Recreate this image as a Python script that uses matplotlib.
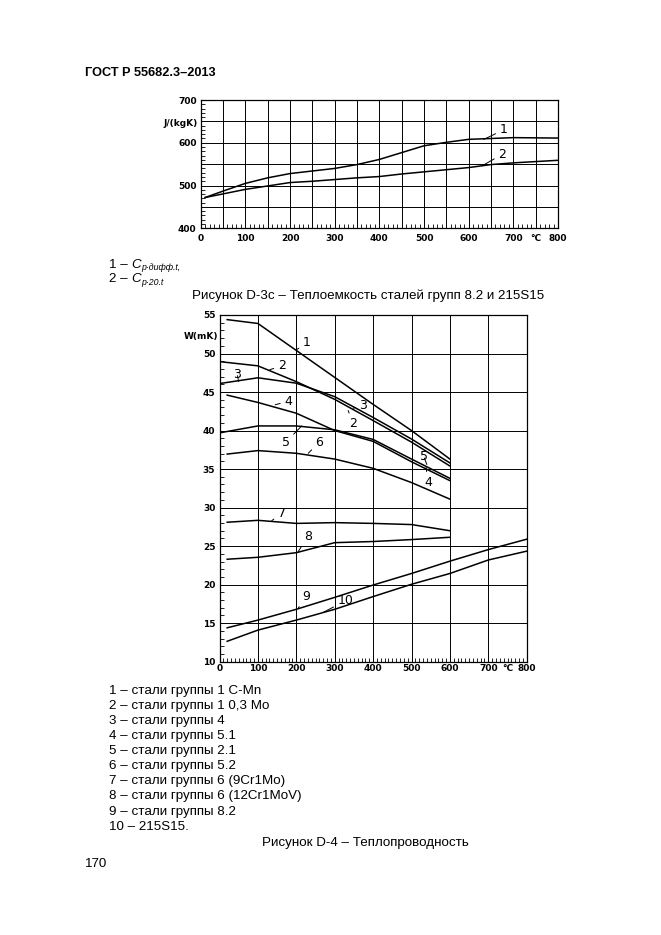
import matplotlib
matplotlib.use("Agg")
import matplotlib.pyplot as plt
from matplotlib.ticker import MultipleLocator, FuncFormatter
from matplotlib.transforms import offset_copy

# Рисунок D-3c: heat capacity, J/(kgK)
cp_t1 = [10, 50, 100, 150, 200, 250, 300, 350, 400, 450, 500, 550, 600, 650, 700, 800]
cp_1 = [472, 487, 505, 518, 528, 534, 540, 549, 561, 577, 593, 601, 608, 610, 612, 611]
cp_t2 = [10, 100, 150, 200, 250, 300, 350, 400, 450, 500, 550, 600, 650, 700, 750, 800]
cp_2 = [472, 491, 499, 507, 510, 514, 518, 521, 527, 532, 537, 542, 549, 553, 556, 559]
cp_legend = [("1 – ", "p·дифф.t,"), ("2 – ", "p·20.t")]

# Рисунок D-4: thermal conductivity, W/(mK)
t_a = [20, 100, 200, 300, 400, 500, 600]
t_b = [0, 100, 200, 300, 400, 500, 600]
t_c = [20, 100, 200, 300, 400, 500, 600, 700, 800]
k1 = [54.4, 53.9, 50.4, 46.9, 43.4, 40.0, 36.3]
k2 = [48.95, 48.4, 46.35, 44.05, 41.3, 38.5, 35.4]
k3 = [46.1, 46.85, 46.15, 44.4, 41.7, 38.9, 35.8]
k4 = [44.6, 43.65, 42.25, 40.0, 38.6, 35.95, 33.5]
k5 = [39.7, 40.6, 40.6, 40.1, 38.85, 36.3, 33.8]
k6 = [36.95, 37.4, 37.05, 36.3, 35.1, 33.25, 31.1]
k7 = [28.1, 28.35, 27.95, 28.05, 27.95, 27.8, 27.0]
k8 = [23.3, 23.55, 24.15, 25.45, 25.6, 25.85, 26.15]
k9 = [14.4, 15.4, 16.8, 18.35, 19.95, 21.45, 23.05, 24.55, 25.9]
k10 = [12.65, 14.1, 15.4, 16.8, 18.45, 20.05, 21.45, 23.2, 24.35]

k_legend = [
    "1 – стали группы 1 C-Mn",
    "2 – стали группы 1 0,3 Mo",
    "3 – стали группы 4",
    "4 – стали группы 5.1",
    "5 – стали группы 2.1",
    "6 – стали группы 5.2",
    "7 – стали группы 6 (9Cr1Mo)",
    "8 – стали группы 6 (12Cr1MoV)",
    "9 – стали группы 8.2",
    "10 – 215S15.",
]

W, H = 661, 935
plt.rcParams['font.family'] = ['Liberation Sans', 'DejaVu Sans']

TICKFONT = ['Liberation Sans Narrow', 'DejaVu Sans']
TICKSIZE = 6.5

fig = plt.figure(figsize=(W / 100, H / 100), dpi=100)
fig.patch.set_facecolor("white")
renderer = fig.canvas.get_renderer()


def box(x0, y0, x1, y1):
    # pixel box (top-left origin) -> figure axes
    return fig.add_axes([x0 / W, 1 - y1 / H, (x1 - x0) / W, (y1 - y0) / H])


def ftext(px, py, s, va="center", **kw):
    return fig.text(px / W, 1 - py / H, s, va=va, **kw)


def style(ax, minor_x, minor_y):
    for sp in ax.spines.values():
        sp.set_linewidth(0.9)
    ax.grid(True, which="major", color="black", lw=0.7)
    ax.xaxis.set_minor_locator(MultipleLocator(minor_x))
    ax.yaxis.set_minor_locator(MultipleLocator(minor_y))
    ax.tick_params(which="major", length=0, pad=3)
    ax.tick_params(which="minor", direction="in", length=3, width=0.6,
                   top=False, right=False)
    for lab in ax.get_xticklabels() + ax.get_yticklabels():
        lab.set_family(TICKFONT)
        lab.set_fontsize(TICKSIZE)
        lab.set_fontweight("bold")


def label(ax, s, xy, xytext):
    ax.annotate(s, xy=xy, xytext=xytext, ha="center", va="center",
                fontsize=9, family=TICKFONT,
                arrowprops=dict(arrowstyle="-", lw=0.7, color="black",
                                shrinkA=1, shrinkB=0))


def formula(px, py, prefix, sub):
    # "N – C_sub" with italic C and smaller italic subscript
    t = ftext(px, py, prefix, va="baseline", fontsize=9.6)
    x1 = t.get_window_extent(renderer).x1
    c = fig.text(x1 / W, 1 - py / H, "C", va="baseline", fontsize=9.6,
                 style="italic")
    x2 = c.get_window_extent(renderer).x1
    fig.text(x2 / W, 1 - (py + 2.5) / H, sub, va="baseline", fontsize=6.3,
             style="italic")


# ---------- top chart ----------
ax1 = box(200.7, 100, 558, 228.3)
ax1.plot(cp_t1, cp_1, color="black", lw=1.1)
ax1.plot(cp_t2, cp_2, color="black", lw=1.1)
ax1.set_xlim(0, 800)
ax1.set_ylim(400, 700)
ax1.xaxis.set_major_locator(MultipleLocator(50))
ax1.yaxis.set_major_locator(MultipleLocator(50))
ax1.xaxis.set_major_formatter(FuncFormatter(
    lambda v, _: "°C" if round(v) == 750 else (f"{v:.0f}" if round(v) % 100 == 0 else "")))
ax1.yaxis.set_major_formatter(FuncFormatter(
    lambda v, _: f"{v:.0f}" if round(v) % 100 == 0 else ""))
style(ax1, 10, 10)
ax1.tick_params(axis="x", pad=4)
ax1.text(-6, 646, "J/(kgK)", ha="right", va="center", fontsize=TICKSIZE,
         family=TICKFONT, fontweight="bold")
label(ax1, "1", (634, 608), (678, 630))
label(ax1, "2", (630, 546), (675, 573))

ftext(85, 72.8, "ГОСТ Р 55682.3–2013", fontsize=9.2, fontweight="bold")
formula(109, 268, *cp_legend[0])
formula(109, 282.5, *cp_legend[1])
ftext(191.7, 296, "Рисунок D-3с – Теплоемкость сталей групп 8.2 и 215S15", fontsize=9.6)

# ---------- bottom chart ----------
ax2 = box(219.5, 315, 526.7, 661.7)
for xs, ys in [(t_a, k1), (t_b, k2), (t_b, k3), (t_a, k4), (t_b, k5),
               (t_a, k6), (t_a, k7), (t_a, k8), (t_c, k9), (t_c, k10)]:
    ax2.plot(xs, ys, color="black", lw=1.1)
ax2.set_xlim(0, 800)
ax2.set_ylim(10, 55)
ax2.xaxis.set_major_locator(MultipleLocator(100))
ax2.yaxis.set_major_locator(MultipleLocator(5))
ax2.xaxis.set_major_formatter(FuncFormatter(lambda v, _: f"{v:.0f}"))
ax2.yaxis.set_major_formatter(FuncFormatter(lambda v, _: f"{v:.0f}"))
style(ax2, 10, 1)
ax2.tick_params(axis="x", pad=2)
ax2.text(750, 0, "°C", ha="center", va="top", fontsize=TICKSIZE,
         family=TICKFONT, fontweight="bold",
         transform=offset_copy(ax2.get_xaxis_transform(), fig=fig,
                               y=-2, units="points"))
ax2.text(-4, 52.2, "W(mK)", ha="right", va="center", fontsize=TICKSIZE,
         family=TICKFONT, fontweight="bold")

label(ax2, "1", (201, 50.5), (227, 51.4))
label(ax2, "2", (131, 47.9), (162, 48.4))
label(ax2, "3", (50, 46.35), (46, 47.3))
label(ax2, "4", (145, 43.35), (179, 43.8))
label(ax2, "5", (214, 40.6), (173, 38.5))
label(ax2, "6", (231, 37.05), (260, 38.5))
label(ax2, "3", (348, 42.9), (375, 43.3))
label(ax2, "2", (335, 42.6), (348, 40.9))
label(ax2, "5", (540, 35.6), (532, 36.6))
label(ax2, "4", (538, 35.2), (543, 33.3))
label(ax2, "7", (136, 28.3), (162, 29.3))
label(ax2, "8", (205, 24.3), (231, 26.3))
label(ax2, "9", (205, 16.95), (225, 18.5))
label(ax2, "10", (270, 16.4), (328, 17.9))

for i, s in enumerate(k_legend):
    ftext(109, 690.7 + i * 15.1, s, fontsize=9.6)
ftext(261.7, 843, "Рисунок D-4 – Теплопроводность", fontsize=9.6)
ftext(85, 864, "170", fontsize=9.6)

fig.savefig("out.png", dpi=100, facecolor="white")
